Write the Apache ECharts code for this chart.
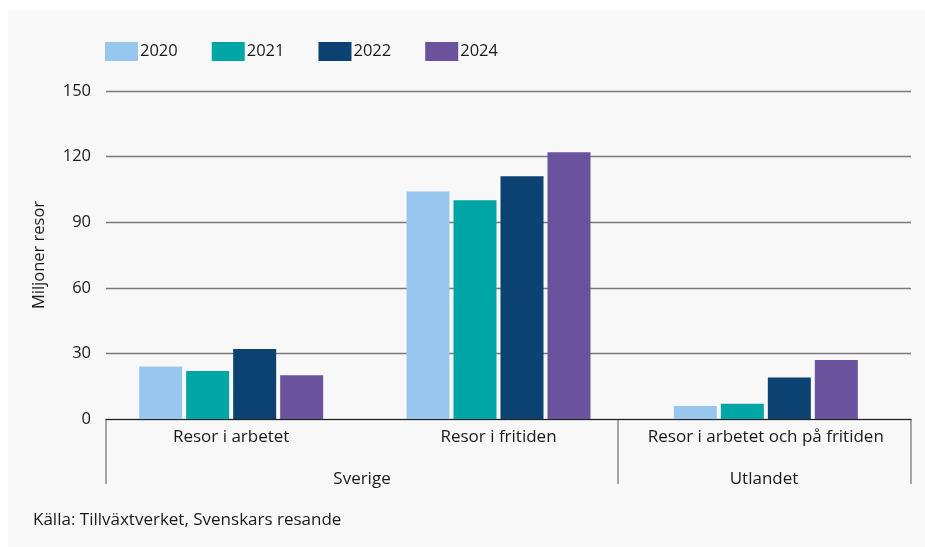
<!DOCTYPE html>
<html>
<head>
<meta charset="utf-8">
<script src="https://cdn.jsdelivr.net/npm/echarts@6/dist/echarts.min.js"></script>
<style>
html,body{margin:0;padding:0;background:#ffffff;}
#chart{width:925px;height:547px;}
</style>
</head>
<body>
<div id="chart"></div>
<script>
const categories = ['Resor i arbetet', 'Resor i fritiden', 'Resor i arbetet och på fritiden'];
const groupLabels = ['Sverige', 'Utlandet'];
const seriesNames = ['2020', '2021', '2022', '2024'];
const values2020 = [24, 104, 6];
const values2021 = [22, 100, 7];
const values2022 = [32, 111, 19];
const values2024 = [20, 122, 27];
const yTicks = [0, 30, 60, 90, 120, 150];
const colors = ['#97c7ee', '#00a5a5', '#0b4271', '#6a539c'];
const FONT = '"Open Sans", sans-serif';

const chart = echarts.init(document.getElementById('chart'), null, {renderer: 'canvas'});
const allValues = [values2020, values2021, values2022, values2024];

const option = {
  backgroundColor: '#ffffff',
  textStyle: {fontFamily: FONT},
  animation: false,
  color: colors,
  legend: {
    left: 105, top: 42, padding: 0,
    itemWidth: 33, itemHeight: 19, itemGap: 34,
    icon: 'rect',
    textStyle: {fontSize: 16.5, color: '#1a1a1a', fontFamily: FONT, padding: [0, 0, 0, -3]},
    data: seriesNames
  },
  grid: [
    {left: 97.5, width: 802, top: 91, height: 328, containLabel: false},
    {left: 106, right: 14, top: 91, height: 328, containLabel: false}
  ],
  xAxis: [
    {
      type: 'category', gridIndex: 0, data: categories,
      axisLine: {show: false}, axisTick: {show: false},
      axisLabel: {fontSize: 17, color: '#1a1a1a', margin: 10, fontFamily: FONT, interval: 0}
    },
    {
      type: 'category', gridIndex: 1, data: [''],
      axisLine: {show: true, lineStyle: {color: '#222', width: 1}},
      axisTick: {show: false}, axisLabel: {show: false}
    }
  ],
  yAxis: [
    {
      type: 'value', gridIndex: 0, min: yTicks[0], max: yTicks[yTicks.length - 1], interval: 30,
      show: false
    },
    {
      type: 'value', gridIndex: 1, min: yTicks[0], max: yTicks[yTicks.length - 1], interval: 30,
      name: 'Miljoner resor', nameLocation: 'middle', nameRotate: 90, nameGap: 58,
      nameTextStyle: {fontSize: 16.5, color: '#1a1a1a', fontFamily: FONT},
      axisLine: {show: false}, axisTick: {show: false},
      axisLabel: {fontSize: 16.5, color: '#1a1a1a', margin: 15, fontFamily: FONT},
      splitLine: {show: true, lineStyle: {color: '#7a7a7a', width: 1.3}}
    }
  ],
  series: seriesNames.map((n, i) => ({
    name: n, type: 'bar', xAxisIndex: 0, yAxisIndex: 0,
    data: allValues[i], barWidth: 43, barGap: '9.3%',
    itemStyle: {color: colors[i]}
  })),
  graphic: [
    {type: 'rect', z: -10, shape: {x: 8, y: 10, width: 917, height: 537}, style: {fill: '#f8f8f8'}},
    {type: 'line', shape: {x1: 106, y1: 419, x2: 106, y2: 484}, style: {stroke: '#555', lineWidth: 1}},
    {type: 'line', shape: {x1: 618, y1: 419, x2: 618, y2: 484}, style: {stroke: '#555', lineWidth: 1}},
    {type: 'line', shape: {x1: 911, y1: 419, x2: 911, y2: 484}, style: {stroke: '#555', lineWidth: 1}},
    {type: 'text', x: 362, y: 479, style: {text: groupLabels[0], fontSize: 17, fill: '#1a1a1a', fontFamily: FONT, align: 'center', verticalAlign: 'middle'}},
    {type: 'text', x: 764, y: 479, style: {text: groupLabels[1], fontSize: 17, fill: '#1a1a1a', fontFamily: FONT, align: 'center', verticalAlign: 'middle'}},
    {type: 'text', x: 33, y: 520, style: {text: 'Källa: Tillväxtverket, Svenskars resande', fontSize: 17, fill: '#1a1a1a', fontFamily: FONT, align: 'left', verticalAlign: 'middle'}}
  ]
};
chart.setOption(option);
</script>
</body>
</html>
